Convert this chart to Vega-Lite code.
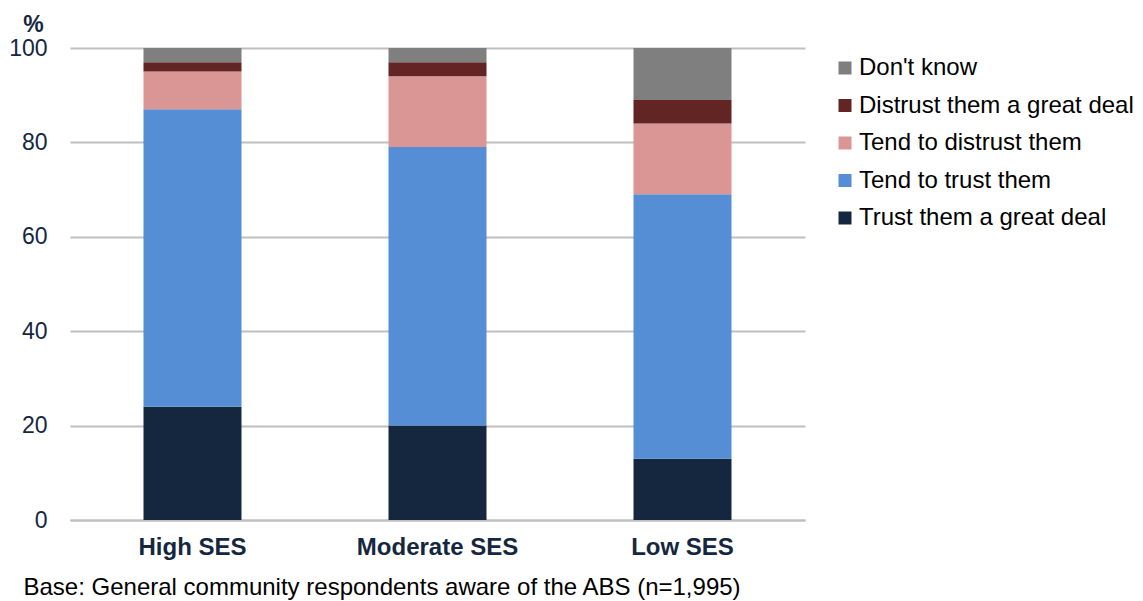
{
  "$schema": "https://vega.github.io/schema/vega-lite/v6.json",
  "autosize": "none",
  "width": 735,
  "height": 472,
  "padding": {"left": 70, "top": 48, "right": 338, "bottom": 81},
  "background": "white",
  "config": {
    "font": "Liberation Sans",
    "view": {"stroke": null}
  },
  "data": {
    "values": [
      {"group": "High SES", "response": "Trust them a great deal", "rank": 1, "pct": 24},
      {"group": "High SES", "response": "Tend to trust them", "rank": 2, "pct": 63},
      {"group": "High SES", "response": "Tend to distrust them", "rank": 3, "pct": 8},
      {"group": "High SES", "response": "Distrust them a great deal", "rank": 4, "pct": 2},
      {"group": "High SES", "response": "Don't know", "rank": 5, "pct": 3},
      {"group": "Moderate SES", "response": "Trust them a great deal", "rank": 1, "pct": 20},
      {"group": "Moderate SES", "response": "Tend to trust them", "rank": 2, "pct": 59},
      {"group": "Moderate SES", "response": "Tend to distrust them", "rank": 3, "pct": 15},
      {"group": "Moderate SES", "response": "Distrust them a great deal", "rank": 4, "pct": 3},
      {"group": "Moderate SES", "response": "Don't know", "rank": 5, "pct": 3},
      {"group": "Low SES", "response": "Trust them a great deal", "rank": 1, "pct": 13},
      {"group": "Low SES", "response": "Tend to trust them", "rank": 2, "pct": 56},
      {"group": "Low SES", "response": "Tend to distrust them", "rank": 3, "pct": 15},
      {"group": "Low SES", "response": "Distrust them a great deal", "rank": 4, "pct": 5},
      {"group": "Low SES", "response": "Don't know", "rank": 5, "pct": 11}
    ]
  },
  "mark": {"type": "bar"},
  "encoding": {
    "x": {
      "field": "group",
      "type": "nominal",
      "sort": ["High SES", "Moderate SES", "Low SES"],
      "scale": {"paddingInner": 0.6, "paddingOuter": 0.3},
      "axis": {
        "title": "Base: General community respondents aware of the ABS (n=1,995)",
        "titleX": -47,
        "titleY": 67,
        "titleAlign": "left",
        "titleBaseline": "middle",
        "titleFontSize": 24,
        "titleFontWeight": "normal",
        "titleColor": "#000000",
        "labelAngle": 0,
        "labelFontSize": 24,
        "labelFontWeight": "bold",
        "labelColor": "#14273F",
        "labelPadding": 15,
        "ticks": false,
        "domainColor": "#BFBFBF",
        "domainWidth": 2
      }
    },
    "y": {
      "field": "pct",
      "type": "quantitative",
      "stack": "zero",
      "scale": {"domain": [0, 100]},
      "axis": {
        "values": [0, 20, 40, 60, 80, 100],
        "title": "%",
        "titleAngle": 0,
        "titleX": -37,
        "titleY": -24,
        "titleAlign": "center",
        "titleBaseline": "middle",
        "titleFontSize": 23,
        "titleFontWeight": "bold",
        "titleColor": "#14273F",
        "labelFontSize": 23,
        "labelColor": "#14273F",
        "labelPadding": 23,
        "ticks": false,
        "domain": false,
        "gridColor": "#BFBFBF",
        "gridWidth": 2
      }
    },
    "color": {
      "field": "response",
      "type": "nominal",
      "scale": {
        "domain": ["Don't know", "Distrust them a great deal", "Tend to distrust them", "Tend to trust them", "Trust them a great deal"],
        "range": ["#7F7F7F", "#632523", "#D99694", "#558ED5", "#14273F"]
      },
      "legend": {
        "title": null,
        "orient": "none",
        "legendX": 763,
        "legendY": 8,
        "symbolType": "square",
        "symbolSize": 169,
        "symbolStrokeWidth": 0,
        "labelFontSize": 24,
        "labelColor": "#000000",
        "labelOffset": 2,
        "labelLimit": 0,
        "rowPadding": 13.5
      }
    },
    "order": {"field": "rank", "type": "quantitative"}
  }
}
